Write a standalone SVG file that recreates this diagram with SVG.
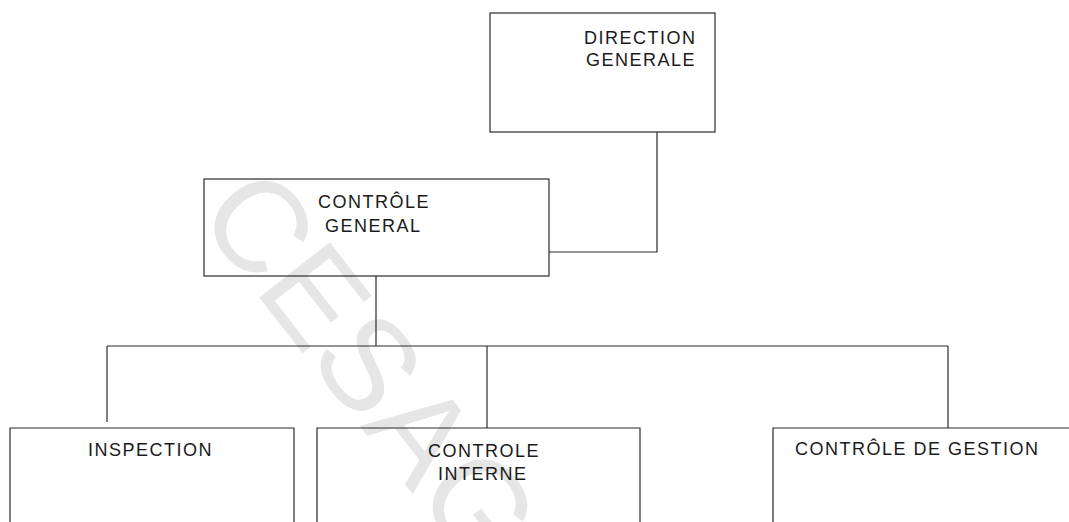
<svg xmlns="http://www.w3.org/2000/svg" width="1069" height="522" viewBox="0 0 1069 522">
<style>
.box{fill:none;stroke:#2a2a2a;stroke-width:1.2}
.lbl{font-family:"Liberation Sans",Arial,sans-serif;font-size:18px;letter-spacing:1.5px;fill:#1a1a1a}
.conn{fill:none;stroke:#2a2a2a;stroke-width:1.2}
.wm{font-family:"Liberation Sans",Arial,sans-serif;font-size:130px;fill:#e6e6e6}
</style>
<rect width="1069" height="522" fill="#ffffff"/>
<g id="watermark">
<text class="wm" transform="translate(195,215) rotate(52)">CESAG</text>
</g>
<g id="connectors">
<polyline class="conn" points="657,132 657,252 549,252"/>
<line class="conn" x1="376" y1="276" x2="376" y2="346"/>
<line class="conn" x1="107" y1="346" x2="948" y2="346"/>
<line class="conn" x1="107" y1="346" x2="107" y2="422"/>
<line class="conn" x1="487" y1="346" x2="487" y2="428"/>
<line class="conn" x1="948" y1="346" x2="948" y2="428"/>
</g>
<g id="direction-generale">
<rect class="box" x="490" y="13" width="225" height="119"/>
<text class="lbl" x="584" y="44">DIRECTION</text>
<text class="lbl" x="586" y="66">GENERALE</text>
</g>
<g id="controle-general">
<rect class="box" x="204" y="179" width="345" height="97"/>
<text class="lbl" x="318" y="208">CONTRÔLE</text>
<text class="lbl" x="325" y="232">GENERAL</text>
</g>
<g id="inspection">
<path class="box" d="M10,522 V428 H294 V522"/>
<text class="lbl" x="88" y="456">INSPECTION</text>
</g>
<g id="controle-interne">
<path class="box" d="M317,522 V428 H640 V522"/>
<text class="lbl" x="428" y="457">CONTROLE</text>
<text class="lbl" x="438" y="480">INTERNE</text>
</g>
<g id="controle-de-gestion">
<path class="box" d="M773,522 V428 H1069"/>
<text class="lbl" x="795" y="455">CONTRÔLE DE GESTION</text>
</g>
</svg>
